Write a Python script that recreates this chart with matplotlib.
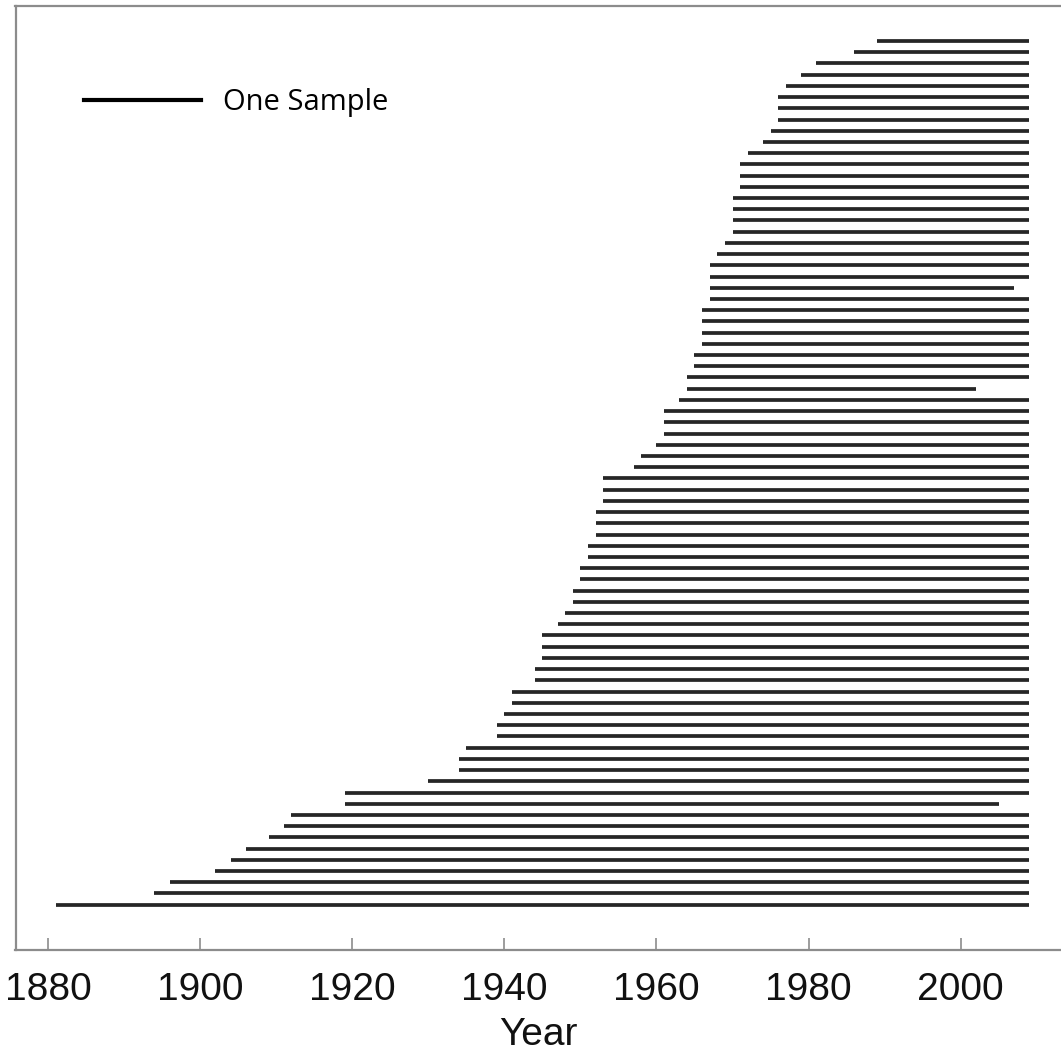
import matplotlib
matplotlib.use("Agg")
import matplotlib.pyplot as plt
from matplotlib.lines import Line2D
import numpy as np

# Start year of each sample, listed top to bottom
start_years = [1989, 1986, 1981, 1979, 1977, 1976, 1976, 1976, 1975, 1974,
               1972, 1971, 1971, 1971, 1970, 1970, 1970, 1970, 1969, 1968,
               1967, 1967, 1967, 1967, 1966, 1966, 1966, 1966, 1965, 1965,
               1964, 1964, 1963, 1961, 1961, 1961, 1960, 1958, 1957, 1953,
               1953, 1953, 1952, 1952, 1952, 1951, 1951, 1950, 1950, 1949,
               1949, 1948, 1947, 1945, 1945, 1945, 1944, 1944, 1941, 1941,
               1940, 1939, 1939, 1935, 1934, 1934, 1930, 1919, 1919, 1912,
               1911, 1909, 1906, 1904, 1902, 1896, 1894, 1881]
# End year of each sample, same order
end_years = [2009] * 78
end_years[22] = 2007
end_years[31] = 2002
end_years[68] = 2005

xticks = [1880, 1900, 1920, 1940, 1960, 1980, 2000]
xlabel = "Year"
legend_label = "One Sample"

W, H = 1061, 1057
fig = plt.figure(figsize=(W / 100, H / 100), dpi=100)
ax = fig.add_axes([15.5 / W, 107 / H, 1 - 15.5 / W, (1051 - 107) / H])

n = len(start_years)
ypos = np.arange(n)[::-1]
ax.hlines(ypos, start_years, end_years, colors="#262626", linewidth=2.7,
          capstyle="butt")

ax.set_xlim(1875.73, 2013.19)
ax.set_ylim(-4.04, n - 1 + 3.12)

for s in ["left", "top", "bottom"]:
    ax.spines[s].set_color("#8c8c8c")
    ax.spines[s].set_linewidth(1.6)
ax.spines["right"].set_visible(False)

ax.set_yticks([])
ax.set_xticks(xticks)
ax.set_xticklabels([str(t) for t in xticks], fontsize=28,
                   family=["Liberation Sans", "DejaVu Sans"], color="#111111")
ax.tick_params(axis="x", direction="in", length=9, width=1.2,
               color="#8c8c8c", pad=16)
ax.set_xlabel(xlabel, fontsize=28, family=["Liberation Sans", "DejaVu Sans"],
              color="#111111", labelpad=6)

handle = Line2D([], [], color="black", linewidth=3.0)
leg = ax.legend([handle], [legend_label], loc="upper left",
                bbox_to_anchor=((84 - 15.5) / (W - 15.5), (1057 - 88 - 107) / 944),
                frameon=False, borderpad=0, borderaxespad=0,
                handlelength=4.0, handletextpad=0.75,
                prop={"family": ["Open Sans", "DejaVu Sans"], "size": 21})

fig.savefig("out.png", dpi=100)
